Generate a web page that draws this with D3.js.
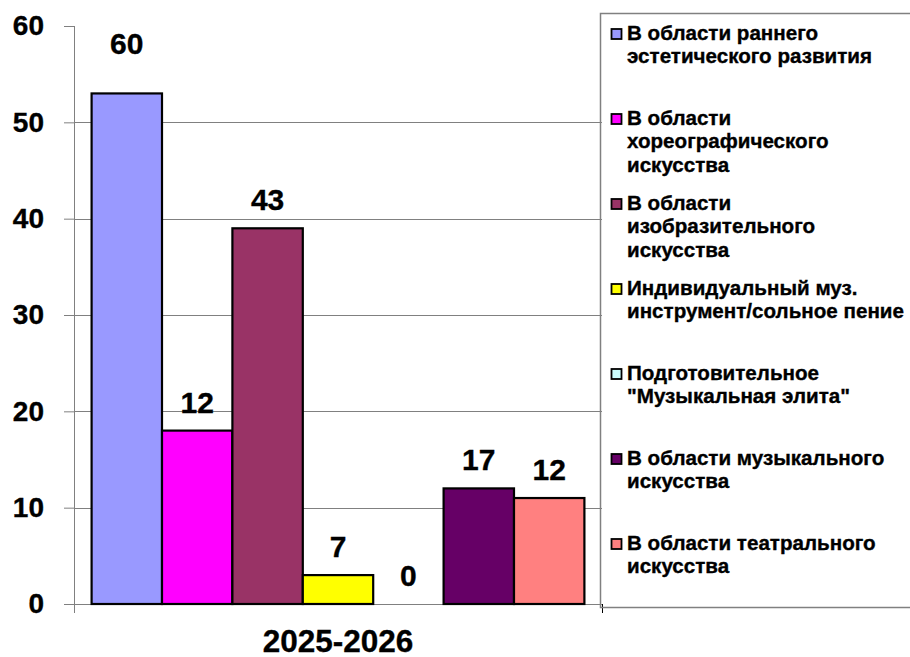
<!DOCTYPE html>
<html>
<head>
<meta charset="utf-8">
<script src="https://cdn.jsdelivr.net/npm/d3@7"></script>
<style>
  body { margin: 0; background: #fff; }
  svg text { font-family: "Liberation Sans", Arial, sans-serif; font-weight: bold; fill: #000; stroke: #000; stroke-width: 0.35; }
</style>
</head>
<body>
<div id="chart"></div>
<script>
// --- data ---
const category = "2025-2026";
const seriesNames = [
  "В области раннего\nэстетического развития",
  "В области\nхореографического\nискусства",
  "В области\nизобразительного\nискусства",
  "Индивидуальный муз.\nинструмент/сольное пение",
  "Подготовительное\n\"Музыкальная элита\"",
  "В области музыкального\nискусства",
  "В области театрального\nискусства"
];
// bar heights as drawn
const barValues = [53, 18, 39, 3, 0, 12, 11];
// numbers written above the bars
const labelValues = [60, 12, 43, 7, 0, 17, 12];
const colors = ["#9999FF", "#FF00FF", "#993366", "#FFFF00", "#CCFFFF", "#660066", "#FF8080"];
const yTicks = [0, 10, 20, 30, 40, 50, 60];

const width = 910;
const height = 657;
const plot = { left: 74, right: 602, top: 26, bottom: 604 };

const svg = d3.select("#chart").append("svg")
  .attr("width", width)
  .attr("height", height);

const y = d3.scaleLinear().domain([0, 60]).range([plot.bottom, plot.top]);
const x = d3.scaleBand().domain(d3.range(seriesNames.length))
  .range([plot.left, plot.right])
  .paddingInner(0)
  .paddingOuter(0.25);

// gridlines (no line at the top value)
svg.append("g").selectAll("line")
  .data(yTicks.filter(t => t > 0 && t < 60))
  .enter().append("line")
  .attr("x1", plot.left).attr("x2", plot.right)
  .attr("y1", d => Math.round(y(d)) + 0.5).attr("y2", d => Math.round(y(d)) + 0.5)
  .attr("stroke", "#808080").attr("stroke-width", 1);

// y axis
const yAxis = svg.append("g")
  .attr("transform", `translate(${plot.left},0)`)
  .call(d3.axisLeft(y).tickValues(yTicks).tickSize(10).tickPadding(20));
yAxis.select(".domain").remove();
yAxis.selectAll(".tick line").attr("stroke", "#808080");
yAxis.selectAll(".tick text")
  .attr("font-size", 28)
  .attr("font-family", "Liberation Sans, Arial, sans-serif")
  .attr("font-weight", "bold")
  .attr("fill", "#000");
svg.append("line")
  .attr("x1", plot.left + 0.5).attr("x2", plot.left + 0.5)
  .attr("y1", plot.top).attr("y2", plot.bottom + 9)
  .attr("stroke", "#808080");

// x axis line + end tick
svg.append("line")
  .attr("x1", plot.left).attr("x2", plot.right)
  .attr("y1", plot.bottom + 0.5).attr("y2", plot.bottom + 0.5)
  .attr("stroke", "#808080");
svg.append("line")
  .attr("x1", plot.right + 0.5).attr("x2", plot.right + 0.5)
  .attr("y1", plot.bottom).attr("y2", plot.bottom + 9)
  .attr("stroke", "#000");

// bars
svg.append("g").selectAll("rect")
  .data(barValues)
  .enter().append("rect")
  .attr("x", (d, i) => x(i))
  .attr("y", d => y(d))
  .attr("width", x.bandwidth())
  .attr("height", d => y(0) - y(d))
  .attr("fill", (d, i) => colors[i])
  .attr("stroke", "#000")
  .attr("stroke-width", d => d > 0 ? 2.2 : 0);

// value labels (the first one sits higher than the rest in the original)
svg.append("g").selectAll("text")
  .data(labelValues)
  .enter().append("text")
  .attr("x", (d, i) => x(i) + x.bandwidth() / 2)
  .attr("y", (d, i) => i === 0 ? y(barValues[i]) - 39 : y(barValues[i]) - 18)
  .attr("text-anchor", "middle")
  .attr("font-size", 30)
  .text(d => d);

// category label
svg.append("text")
  .attr("x", (plot.left + plot.right) / 2)
  .attr("y", 652)
  .attr("text-anchor", "middle")
  .attr("font-size", 31.5)
  .text(category);

// legend
const legend = svg.append("g");
legend.append("rect")
  .attr("x", 600.5).attr("y", 13.5)
  .attr("width", 320).attr("height", 594)
  .attr("fill", "none")
  .attr("stroke", "#808080")
  .attr("stroke-width", 1.5);

const item = legend.selectAll(".item")
  .data(seriesNames)
  .enter().append("g")
  .attr("class", "item")
  .attr("transform", (d, i) => `translate(0,${40 + i * 85})`);

item.append("rect")
  .attr("x", 611.5).attr("y", -11)
  .attr("width", 10).attr("height", 10)
  .attr("fill", (d, i) => colors[i])
  .attr("stroke", "#000")
  .attr("stroke-width", 1.8);

item.append("text")
  .attr("font-size", 20.6)
  .selectAll("tspan")
  .data(d => d.split("\n"))
  .enter().append("tspan")
  .attr("x", 627)
  .attr("y", (d, j) => j * 23.3)
  .text(d => d);
</script>
</body>
</html>
